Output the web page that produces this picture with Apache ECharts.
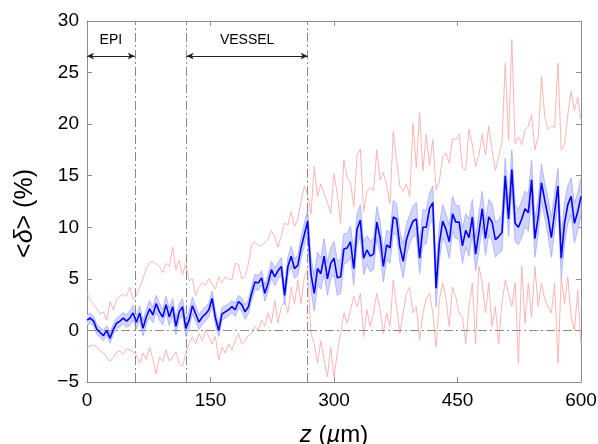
<!DOCTYPE html>
<html>
<head>
<meta charset="utf-8">
<script src="https://cdn.jsdelivr.net/npm/echarts@6/dist/echarts.min.js"></script>
<style>
  html, body { margin: 0; padding: 0; background: #fff; }
  #main { width: 598px; height: 444px; }
</style>
</head>
<body>
<div id="main"></div>
<script>
// depth samples (um), every 4 um
const zStep = 4
const zCount = 151

// mean <delta> (%)
const meanVals = [
  1.0, 1.2, 0.9, 0.1, -0.2, -0.5, 0.0, -0.75, 0.1, 0.7,
  0.9, 1.2, 0.9, 1.2, 1.7, 0.8, 1.7, 0.2, 1.3, 2.1,
  1.5, 2.6, 1.8, 1.3, 2.5, 1.3, 2.3, 0.4, 1.8, 2.3,
  0.2, 1.0, 2.4, 1.6, 0.8, 1.3, 1.6, 2.0, 3.1, 1.2,
  0.0, 1.6, 1.8, 2.0, 2.3, 2.0, 2.8, 2.5, 1.8, 2.3,
  3.6, 4.7, 4.6, 5.1, 3.6, 4.6, 5.9, 5.2, 5.8, 6.2,
  3.4, 6.2, 7.2, 6.0, 6.3, 8.0, 9.3, 10.6, 5.5, 3.6,
  6.0, 5.5, 7.2, 5.0, 6.5, 7.0, 5.1, 5.2, 7.9, 8.0,
  8.6, 6.0, 9.8, 10.7, 7.0, 7.8, 7.2, 7.4, 10.5, 9.0,
  6.2, 8.3, 8.0, 11.0, 10.8, 8.1, 6.7, 8.8, 9.8, 10.6,
  10.8, 7.0, 10.0, 10.0, 11.8, 12.4, 4.1, 8.5, 10.6, 9.8,
  8.6, 11.3, 10.5, 10.5, 8.2, 9.7, 9.0, 11.0, 7.4, 9.5,
  11.8, 8.9, 11.0, 10.5, 8.8, 9.1, 9.5, 15.0, 10.8, 15.6,
  10.4, 10.0, 10.8, 11.8, 11.4, 14.6, 8.9, 11.0, 14.3, 12.6,
  11.0, 9.0, 11.5, 14.0, 7.0, 10.4, 12.2, 13.0, 10.4, 11.5,
  13.0
]

// half width of the shaded band
const semVals = [
  0.5, 0.5, 0.45, 0.45, 0.5, 0.5, 0.45, 0.5, 0.5, 0.5,
  0.55, 0.55, 0.6, 0.7, 0.7, 0.65, 0.7, 0.75, 0.7, 0.8,
  0.75, 0.8, 0.8, 0.75, 0.8, 0.85, 0.8, 0.8, 0.75, 0.8,
  0.8, 0.85, 0.8, 0.75, 0.7, 0.7, 0.7, 0.65, 0.7, 0.65,
  0.6, 0.6, 0.6, 0.6, 0.6, 0.65, 0.6, 0.65, 0.7, 0.65,
  0.7, 0.75, 0.7, 0.7, 0.75, 0.8, 0.8, 0.85, 0.8, 0.85,
  0.9, 0.9, 0.95, 0.95, 1.0, 1.0, 1.1, 1.1, 1.6, 1.7,
  1.6, 1.5, 1.7, 1.6, 1.5, 1.6, 1.7, 1.6, 1.5, 1.4,
  1.5, 1.6, 1.5, 1.5, 1.6, 1.4, 1.5, 1.5, 1.5, 1.6,
  1.5, 1.4, 1.5, 1.6, 1.5, 1.5, 1.6, 1.5, 1.4, 1.5,
  1.6, 1.5, 1.7, 1.6, 1.5, 1.6, 1.8, 1.7, 1.6, 1.5,
  1.6, 1.7, 1.6, 1.6, 1.7, 1.6, 1.8, 1.7, 1.6, 1.8,
  1.7, 1.6, 1.7, 1.8, 1.7, 1.6, 1.8, 1.7, 1.7, 1.9,
  1.8, 1.7, 1.8, 1.7, 1.8, 1.9, 1.8, 1.7, 1.8, 1.7,
  1.8, 1.9, 1.8, 1.7, 1.9, 2.0, 1.8, 1.8, 1.9, 1.8,
  1.8
]

// red envelope, upper
const upperVals = [
  3.6, 3.0, 2.5, 2.1, 1.6, 1.8, 1.0, 2.8, 2.0, 3.0,
  3.3, 3.5, 3.3, 4.2, 3.0, 3.4, 4.2, 5.0, 6.0, 6.6,
  6.7, 6.4, 6.2, 5.6, 6.5, 6.2, 8.1, 5.9, 6.8, 5.4,
  6.5, 4.8, 5.0, 3.4, 4.2, 4.6, 4.4, 5.0, 4.5, 4.0,
  5.2, 4.6, 5.2, 5.0, 4.9, 6.5, 6.4, 5.0, 5.2, 6.4,
  8.3, 8.6, 8.2, 8.2, 8.5, 8.8, 9.7, 9.1, 8.1, 9.2,
  10.4, 10.2, 11.5, 10.1, 10.8, 12.5, 14.0, 13.2, 11.3, 15.9,
  13.0, 14.2, 13.3, 12.4, 11.3, 15.2, 13.2, 10.4, 16.5, 14.8,
  14.4, 12.0, 17.0, 17.6, 11.5, 13.5, 13.8, 13.6, 17.5, 14.6,
  15.3, 14.0, 12.3, 19.3, 16.5, 14.0, 13.5, 14.2, 13.0, 20.1,
  15.8, 21.1, 15.5, 19.0, 16.0, 18.5, 13.6, 14.5, 16.8, 17.2,
  16.2, 18.6, 18.5, 19.0, 15.8, 15.5, 19.5, 18.0, 15.9, 17.0,
  19.0, 17.0, 19.8, 17.5, 15.5, 16.8, 18.3, 25.9, 18.5, 28.2,
  18.1, 18.8, 18.0, 19.4, 19.8, 20.9, 17.5, 18.8, 24.6, 20.7,
  19.5, 19.8, 19.7, 25.9, 17.5, 18.0, 20.9, 23.2, 21.3, 22.6,
  20.4
]

// red envelope, lower
const lowerVals = [
  -1.7, -1.5, -1.4, -1.6, -2.0, -2.2, -2.6, -3.0, -2.6, -2.1,
  -2.0, -2.3, -1.8, -1.9, -2.1, -2.4, -3.2, -2.2, -2.8, -1.6,
  -2.8, -4.2, -2.6, -3.0, -1.9, -3.0, -2.6, -2.1, -3.2, -3.5,
  -2.2, -1.3, -0.6, -1.3, -0.3, -1.0, 0.0, -0.6, -1.3, -0.6,
  -2.9, -1.6, -2.2, -1.3, -1.9, -1.0, -0.3, -1.3, -1.0, -0.5,
  -0.3, 0.4, 0.0, 1.0, 0.4, 1.7, 0.7, 2.9, 0.7, 2.3,
  2.9, 1.7, 4.2, 2.6, 4.9, 2.6, 5.2, 5.9, -0.3, -1.3,
  -3.2, -1.0, -2.9, -4.5, -1.6, -4.5, -2.2, -0.3, 1.7, 0.7,
  1.9, 3.3, 2.3, 3.6, -0.6, 2.0, 0.4, 1.7, 3.6, 2.0,
  -0.3, 1.7, 0.4, 4.9, 2.3, -0.3, 1.7, 3.6, 4.2, 1.7,
  2.3, -0.9, 1.7, 3.0, 3.6, 1.7, -1.6, 3.0, 4.6, 3.0,
  0.4, 4.2, 3.2, 1.7, 1.3, -1.3, 2.3, 4.6, -1.3, 6.2,
  4.6, 1.7, 4.6, 0.4, 2.3, -1.3, 2.6, 4.9, 3.6, 2.3,
  4.6, -3.2, 6.2, 0.7, 4.6, 1.3, 6.2, 2.3, 4.6, 3.0,
  2.3, 1.7, 4.6, -3.2, 5.2, 2.6, 5.2, 1.3, 0.0, 3.9,
  -1.3
]

// region boundaries (um) and labels
const boundaries = [58, 121, 268]
const regions = [
  { name: 'EPI', from: 0, to: 58 },
  { name: 'VESSEL', from: 121, to: 268 }
]
const regionArrowY = 26.6

const zVals = []
for (let i = 0; i < zCount; i++) zVals.push(i * zStep)

const pair = arr => zVals.map((z, i) => [z, arr[i]])
const bandLow = zVals.map((z, i) => [z, +(meanVals[i] - semVals[i]).toFixed(3)])
const bandHigh = zVals.map((z, i) => [z, +(meanVals[i] + semVals[i]).toFixed(3)])
// rows for the custom band polygon: [z, low, high]
const bandRows = zVals.map((z, i) => [z, bandLow[i][1], bandHigh[i][1]])

const axisGray = '#8c8c8c'
const dashDot = [9, 3, 2, 3]
const font = 'Liberation Sans, Arial, sans-serif'

const chart = echarts.init(document.getElementById('main'))

function renderBand(params, api) {
  // draw the whole band once, from the first item
  if (params.dataIndex !== 0) return null
  const top = bandRows.map(r => api.coord([r[0], r[2]]))
  const bottom = bandRows.map(r => api.coord([r[0], r[1]])).reverse()
  return {
    type: 'polygon',
    shape: { points: top.concat(bottom) },
    style: { fill: '#d2d5ff', stroke: 'none' }
  }
}

const boxAxis = {
  axisLine: { show: true, onZero: false, lineStyle: { color: axisGray, width: 1 } },
  axisTick: { show: true, inside: true, length: 5, lineStyle: { color: axisGray } },
  splitLine: { show: false }
}

const option = {
  animation: false,
  backgroundColor: '#fff',
  grid: { left: 87, right: 17, top: 21, bottom: 62, outerBoundsMode: 'none', containLabel: false },
  xAxis: [
    Object.assign({}, boxAxis, {
      type: 'value',
      min: 0,
      max: 600,
      interval: 150,
      name: '{i|z} ({i|\u00b5}m)',
      nameLocation: 'middle',
      nameGap: 41,
      nameTextStyle: {
        rich: {
          i: { fontStyle: 'italic', fontSize: 24, fontFamily: font, color: '#000' }
        },
        fontSize: 24,
        fontFamily: font,
        color: '#000'
      },
      axisLabel: { color: '#000', fontSize: 19, fontFamily: font, margin: 9 }
    }),
    Object.assign({}, boxAxis, {
      type: 'value',
      position: 'top',
      min: 0,
      max: 600,
      interval: 150,
      axisLabel: { show: false }
    })
  ],
  yAxis: [
    Object.assign({}, boxAxis, {
      type: 'value',
      min: -5,
      max: 30,
      interval: 5,
      name: '<{i|\u03b4}> (%)',
      nameLocation: 'middle',
      nameGap: 49,
      nameRotate: 90,
      nameTextStyle: {
        rich: {
          i: { fontStyle: 'italic', fontSize: 25, fontFamily: font, color: '#000' }
        },
        fontSize: 25,
        fontFamily: font,
        color: '#000',
        padding: [0, 24, 0, 0]
      },
      axisLabel: {
        color: '#000',
        fontSize: 19,
        fontFamily: font,
        margin: 8,
        formatter: v => (v < 0 ? '\u2212' + Math.abs(v) : String(v))
      }
    }),
    Object.assign({}, boxAxis, {
      type: 'value',
      position: 'right',
      min: -5,
      max: 30,
      interval: 5,
      axisLabel: { show: false }
    })
  ],
  series: [
    {
      name: 'upper',
      type: 'line',
      data: pair(upperVals),
      symbol: 'none',
      lineStyle: { color: '#ffabab', width: 0.9 },
      z: 2
    },
    {
      name: 'lower',
      type: 'line',
      data: pair(lowerVals),
      symbol: 'none',
      lineStyle: { color: '#ffabab', width: 0.9 },
      z: 2
    },
    {
      name: 'band',
      type: 'custom',
      data: bandRows,
      renderItem: renderBand,
      encode: { x: 0, y: [1, 2] },
      silent: true,
      z: 3
    },
    {
      name: 'bandLowEdge',
      type: 'line',
      data: bandLow,
      symbol: 'none',
      lineStyle: { color: '#a4aaff', width: 0.8 },
      z: 4
    },
    {
      name: 'bandHighEdge',
      type: 'line',
      data: bandHigh,
      symbol: 'none',
      lineStyle: { color: '#a4aaff', width: 0.8 },
      z: 4
    },
    {
      name: 'mean',
      type: 'line',
      data: pair(meanVals),
      symbol: 'none',
      lineStyle: { color: '#0000ff', width: 1.6 },
      z: 6
    },
    {
      name: 'guides',
      type: 'line',
      data: [],
      z: 5,
      markLine: {
        silent: true,
        symbol: ['none', 'none'],
        label: { show: false },
        lineStyle: { color: '#8a8a8a', type: dashDot, width: 1 },
        data: boundaries.map(b => ({ xAxis: b })).concat([
          [{ coord: [0, 0] }, { coord: [600, 0] }]
        ])
      }
    },
    {
      name: 'regions',
      type: 'line',
      data: [],
      z: 5,
      markLine: {
        silent: true,
        symbol: ['arrow', 'arrow'],
        symbolSize: [5, 7],
        lineStyle: { color: '#222', type: 'solid', width: 1 },
        label: {
          show: true,
          position: 'middle',
          distance: 9,
          color: '#000',
          fontSize: 14,
          fontFamily: 'Liberation Sans Narrow, Liberation Sans, Arial',
          formatter: p => p.name
        },
        data: regions.map(r => [
          { name: r.name, coord: [r.from, regionArrowY] },
          { coord: [r.to, regionArrowY] }
        ])
      }
    }
  ]
}

chart.setOption(option)
</script>
</body>
</html>
